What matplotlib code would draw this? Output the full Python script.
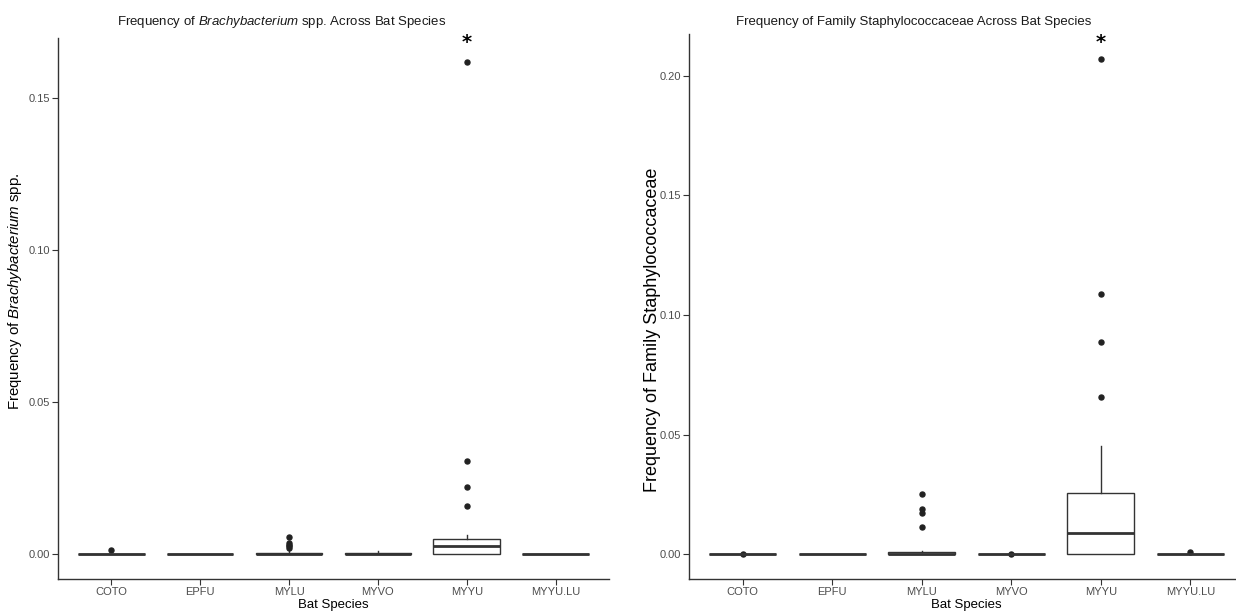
import matplotlib
matplotlib.use('Agg')
import matplotlib.pyplot as plt
import matplotlib.transforms as mtransforms

plt.rcParams['font.family'] = ['Liberation Sans', 'DejaVu Sans']
plt.rcParams['mathtext.fontset'] = 'custom'
plt.rcParams['mathtext.rm'] = 'Liberation Sans'
plt.rcParams['mathtext.it'] = 'Liberation Sans:italic'

species = ['COTO', 'EPFU', 'MYLU', 'MYVO', 'MYYU', 'MYYU.LU']

# Brachybacterium spp. box stats (q1, median, q3, whisker low, whisker high)
brachy_q1 = [0.0, 0.0, 0.0, 0.0, 0.0001, 0.0]
brachy_med = [0.0, 0.0, 0.0002, 0.0002, 0.0026, 0.0]
brachy_q3 = [0.0, 0.0, 0.0006, 0.0005, 0.0050, 0.0]
brachy_whislo = [0.0, 0.0, 0.0, 0.0, 0.0, 0.0]
brachy_whishi = [0.0, 0.0, 0.0012, 0.0010, 0.0065, 0.0]
brachy_fliers = [[0.0015], [], [0.0056, 0.0036, 0.0031, 0.0026, 0.0021],
                 [], [0.1618, 0.0307, 0.0221, 0.0160], []]

# Family Staphylococcaceae box stats
staph_q1 = [0.0, 0.0, 0.0, 0.0, 0.0, 0.0]
staph_med = [0.0, 0.0, 0.0002, 0.0, 0.0087, 0.0]
staph_q3 = [0.0, 0.0, 0.0011, 0.0, 0.0254, 0.0]
staph_whislo = [0.0, 0.0, 0.0, 0.0, 0.0, 0.0]
staph_whishi = [0.0, 0.0, 0.0015, 0.0, 0.0452, 0.0]
staph_fliers = [[0.0002], [], [0.0251, 0.0191, 0.0173, 0.0112],
                [0.0002], [0.2071, 0.1088, 0.0887, 0.0657], [0.0010]]

fig = plt.figure(figsize=(12.36, 6.15), dpi=100)
ax1 = fig.add_axes([0.0469, 0.0585, 0.4458, 0.8805])
ax2 = fig.add_axes([0.5575, 0.0585, 0.4490, 0.8862])


def draw_panel(ax, q1, med, q3, wlo, whi, fliers, title, title_pad,
               ylabel, ylabel_size, label_x, label_y):
    stats = []
    for i in range(len(species)):
        stats.append(dict(q1=q1[i], med=med[i], q3=q3[i], whislo=wlo[i],
                          whishi=whi[i], fliers=fliers[i], label=species[i]))
    ax.bxp(stats, positions=range(1, len(species) + 1), widths=0.75,
           showcaps=False, patch_artist=True,
           boxprops=dict(facecolor='white', edgecolor='#333333', linewidth=1.0),
           medianprops=dict(color='#333333', linewidth=2.0),
           whiskerprops=dict(color='#333333', linewidth=1.0),
           flierprops=dict(marker='o', markerfacecolor='#222222',
                           markeredgecolor='#222222', markersize=3.6))
    top = max(max(f) for f in fliers if f)
    pad = top * 0.05
    ax.set_ylim(-pad, top + pad)
    ax.set_xlim(0.4, len(species) + 0.6)
    ax.set_yticks([0.0, 0.05, 0.10, 0.15, 0.20][:int(top / 0.05) + 1])
    ax.yaxis.set_major_formatter(plt.FuncFormatter(lambda v, p: f'{v:.2f}'))

    for s in ['top', 'right']:
        ax.spines[s].set_visible(False)
    for s in ['left', 'bottom']:
        ax.spines[s].set_color('#333333')
        ax.spines[s].set_linewidth(1.0)
    ax.tick_params(axis='both', colors='#333333', length=4, width=0.8,
                   labelsize=8, labelcolor='#4D4D4D', pad=2)

    ax.set_title(title, fontsize=9.5, x=0.405, pad=title_pad, color='#1a1a1a')
    ax.set_xlabel('Bat Species', fontsize=9.5, labelpad=1)
    ax.set_ylabel(ylabel, fontsize=ylabel_size)
    ax.yaxis.set_label_coords(label_x, label_y)

    # significance marker above MYYU
    trans = mtransforms.blended_transform_factory(ax.transData, fig.transFigure)
    ax.text(species.index('MYYU') + 1, 0.9317, '*', transform=trans,
            ha='center', va='center', fontsize=14, fontweight='bold',
            family='DejaVu Sans', clip_on=False)


draw_panel(ax1, brachy_q1, brachy_med, brachy_q3, brachy_whislo, brachy_whishi,
           brachy_fliers,
           r'Frequency of $\it{Brachybacterium}$ spp. Across Bat Species', 9,
           r'Frequency of $\it{Brachybacterium}$ spp.', 10.8, -0.0617, 0.532)
draw_panel(ax2, staph_q1, staph_med, staph_q3, staph_whislo, staph_whishi,
           staph_fliers,
           'Frequency of Family Staphylococcaceae Across Bat Species', 6.5,
           'Frequency of Family Staphylococcaceae', 13.0, -0.05, 0.457)

fig.savefig('out.png', dpi=100)
